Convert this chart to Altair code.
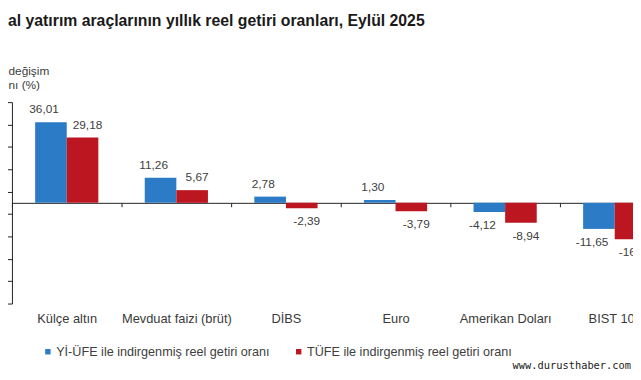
import altair as alt
import pandas as pd

title_text = "al yatırım araçlarının yıllık reel getiri oranları, Eylül 2025"
y_title_lines = ["değişim", "nı (%)"]
categories = ["Külçe altın", "Mevduat faizi (brüt)", "DİBS", "Euro", "Amerikan Doları", "BIST 100"]
series_names = ["Yİ-ÜFE ile indirgenmiş reel getiri oranı", "TÜFE ile indirgenmiş reel getiri oranı"]
yiufe_values = [36.01, 11.26, 2.78, 1.30, -4.12, -11.65]
tufe_values = [29.18, 5.67, -2.39, -3.79, -8.94, -16.30]
y_ticks = [-45, -35, -25, -15, -5, 5, 15, 25, 35, 45]
colors = ["#2B7BC6", "#BC1720"]
watermark = ["www.durusthaber.com"]

rows = []
for i, c in enumerate(categories):
    for s, vals in zip(series_names, [yiufe_values, tufe_values]):
        v = vals[i]
        rows.append({"cat": c, "series": s, "value": v,
                     "label": f"{v:.2f}".replace(".", ",")})
df = pd.DataFrame(rows)

FONT = "Liberation Sans"

x = alt.X("cat:N", sort=categories,
          scale=alt.Scale(domain=categories, range=[0, 666], paddingInner=0, paddingOuter=0),
          axis=alt.Axis(title=None, orient="bottom", offset=-102, tickBand="extent",
                        tickSize=4, labelPadding=107, labelAngle=0,
                        domainColor="#222222", tickColor="#222222",
                        labelFont=FONT, labelFontSize=13, labelColor="#3a3a3a"))
xo = alt.XOffset("series:N", sort=series_names,
                 scale=alt.Scale(domain=series_names, paddingInner=0, paddingOuter=0.734))
y = alt.Y("value:Q", scale=alt.Scale(domain=[-45, 45], nice=False),
          axis=alt.Axis(values=y_ticks, title=y_title_lines, titleAngle=0, titleAlign="left",
                        titleBaseline="alphabetic", titleX=-4, titleY=-28,
                        titleFont=FONT, titleFontSize=12, titleFontWeight="normal",
                        titleColor="#404040", titleLineHeight=14,
                        tickSize=5, grid=False, labelPadding=3,
                        domainColor="#222222", tickColor="#222222",
                        labelFont=FONT, labelFontSize=12, labelColor="#404040"))
color = alt.Color("series:N", sort=series_names,
                  scale=alt.Scale(domain=series_names, range=colors),
                  legend=alt.Legend(title=None, orient="none", legendX=30, legendY=246,
                                    direction="horizontal", symbolType="square",
                                    symbolSize=30, labelFont=FONT, labelFontSize=12.8,
                                    labelColor="#404040", columnPadding=22, labelOffset=2,
                                    labelLimit=400))

base = alt.Chart(df)
bars = base.mark_bar().encode(x=x, xOffset=xo, y=y, color=color)


def label_layer(series, positive, dx, dy):
    cond = (alt.datum.series == series) & ((alt.datum.value >= 0) if positive else (alt.datum.value < 0))
    return base.transform_filter(cond).mark_text(
        dx=dx, dy=dy, baseline="middle", align="center", font=FONT, fontSize=12, color="#404040"
    ).encode(x=x, xOffset=xo, y=y, text="label:N")


texts = [
    label_layer(series_names[0], True, -7, -13),
    label_layer(series_names[0], False, -7, 13),
    label_layer(series_names[1], True, 5, -13),
    label_layer(series_names[1], False, 5, 13),
]

wm = alt.Chart(pd.DataFrame({"t": watermark})).mark_text(
    font="DejaVu Sans Mono", fontSize=10.5, align="left", baseline="middle", color="#222222"
).encode(x=alt.value(507), y=alt.value(267), text="t:N")

chart = alt.layer(bars, *texts, wm).properties(
    width=629, height=204,
    title=alt.Title(title_text, anchor="start", frame="group", dx=-4, offset=36,
                    font=FONT, fontSize=16, fontWeight="bold", color="#1a1a1a"),
    padding={"left": 4, "top": 93, "right": 0, "bottom": 67},
    autosize="none",
).configure_view(stroke="transparent")

chart.save("out.html", embed_options={"renderer": "svg", "actions": False})
